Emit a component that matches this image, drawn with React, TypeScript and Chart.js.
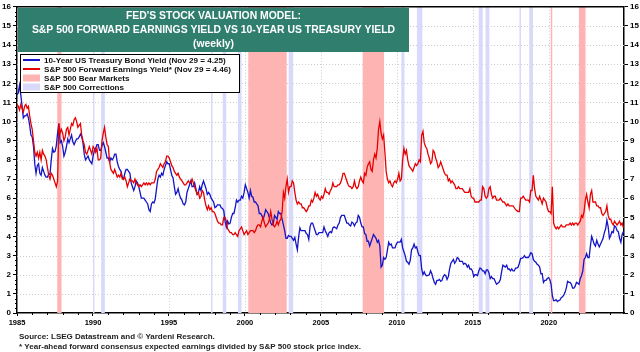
import React, { useEffect, useRef } from "react";
import { Chart, registerables } from "chart.js";

Chart.register(...registerables);

// ---------- DATA ----------
const START_DATE = 1985.0;
const LAST_DATE = 2024.91; // Nov 29, 2024

// 10-Year US Treasury Bond Yield (%), monthly readings Jan 1985 .. Nov 2024
const treasuryYield: number[] = [
  11.4, 11.5, 11.9, 11.4, 10.8, 10.2, 10.3, 10.3, 10.4, 10.2, 9.8, 9.3, // 1985
  9.2, 8.7, 7.8, 7.3, 7.7, 7.8, 7.3, 7.2, 7.6, 7.4, 7.2, 7.1, // 1986
  7.1, 7.25, 7.25, 8.0, 8.6, 8.4, 8.45, 8.75, 9.4, 9.9, 8.9, 9.0, // 1987
  8.7, 8.2, 8.4, 8.7, 9.1, 8.9, 9.1, 9.3, 8.95, 8.8, 8.95, 9.1, // 1988
  9.1, 9.2, 9.35, 9.2, 8.9, 8.3, 8.0, 8.1, 8.2, 8.0, 7.9, 7.8, // 1989
  8.2, 8.5, 8.6, 8.8, 8.8, 8.5, 8.5, 8.75, 8.9, 8.7, 8.4, 8.1, // 1990
  8.1, 7.9, 8.1, 8.0, 8.1, 8.3, 8.3, 7.9, 7.65, 7.5, 7.4, 7.1, // 1991
  7.0, 7.3, 7.5, 7.5, 7.4, 7.3, 6.8, 6.6, 6.4, 6.6, 6.9, 6.8, // 1992
  6.6, 6.3, 6.0, 6.0, 6.0, 5.9, 5.8, 5.7, 5.4, 5.3, 5.7, 5.8, // 1993
  5.75, 5.97, 6.5, 7.0, 7.2, 7.1, 7.3, 7.2, 7.5, 7.7, 7.9, 7.8, // 1994
  7.8, 7.5, 7.2, 7.06, 6.6, 6.2, 6.3, 6.5, 6.2, 6.0, 5.9, 5.7, // 1995
  5.65, 5.8, 6.3, 6.5, 6.7, 6.9, 6.6, 6.6, 6.8, 6.5, 6.2, 6.3, // 1996
  6.6, 6.4, 6.7, 6.9, 6.7, 6.5, 6.2, 6.3, 6.2, 6.0, 5.9, 5.8, // 1997
  5.5, 5.55, 5.65, 5.65, 5.65, 5.5, 5.46, 5.34, 4.8, 4.5, 4.8, 4.65, // 1998
  4.7, 5.0, 5.2, 5.2, 5.5, 5.9, 5.8, 5.9, 5.9, 6.1, 6.0, 6.3, // 1999
  6.7, 6.5, 6.3, 6.0, 6.4, 6.1, 6.05, 5.8, 5.8, 5.7, 5.6, 5.2, // 2000
  5.2, 5.1, 4.9, 5.1, 5.4, 5.3, 5.2, 4.95, 4.7, 4.6, 4.65, 5.1, // 2001
  5.0, 4.9, 5.3, 5.2, 5.2, 4.9, 4.6, 4.3, 3.9, 3.9, 4.05, 4.0, // 2002
  4.0, 3.9, 3.8, 3.95, 3.6, 3.3, 3.98, 4.45, 4.3, 4.3, 4.3, 4.3, // 2003
  4.15, 4.1, 3.85, 4.5, 4.7, 4.7, 4.5, 4.3, 4.1, 4.1, 4.2, 4.2, // 2004
  4.2, 4.2, 4.5, 4.3, 4.15, 4.0, 4.2, 4.25, 4.2, 4.45, 4.5, 4.45, // 2005
  4.4, 4.6, 4.7, 5.0, 5.1, 5.1, 5.1, 4.9, 4.7, 4.7, 4.6, 4.55, // 2006
  4.75, 4.7, 4.55, 4.7, 4.75, 5.1, 5.0, 4.7, 4.5, 4.5, 4.15, 4.1, // 2007
  3.75, 3.75, 3.5, 3.7, 3.9, 4.1, 4.0, 3.9, 3.7, 3.8, 3.5, 2.4, // 2008
  2.5, 2.9, 2.8, 2.9, 3.3, 3.7, 3.55, 3.6, 3.4, 3.4, 3.4, 3.6, // 2009
  3.7, 3.7, 3.7, 3.85, 3.4, 3.2, 3.0, 2.7, 2.65, 2.55, 2.75, 3.3, // 2010
  3.4, 3.6, 3.4, 3.45, 3.2, 3.0, 3.0, 2.3, 2.0, 2.15, 2.0, 1.95, // 2011
  1.97, 2.0, 2.2, 2.05, 1.8, 1.6, 1.5, 1.7, 1.7, 1.75, 1.65, 1.7, // 2012
  1.9, 2.0, 1.95, 1.75, 1.9, 2.3, 2.6, 2.7, 2.8, 2.6, 2.7, 2.9, // 2013
  2.85, 2.7, 2.7, 2.7, 2.55, 2.6, 2.55, 2.4, 2.5, 2.3, 2.3, 2.2, // 2014
  1.9, 2.0, 2.0, 1.95, 2.2, 2.35, 2.3, 2.2, 2.2, 2.05, 2.25, 2.25, // 2015
  2.1, 1.8, 1.9, 1.8, 1.8, 1.65, 1.5, 1.55, 1.6, 1.75, 2.15, 2.5, // 2016
  2.45, 2.4, 2.5, 2.3, 2.3, 2.2, 2.3, 2.2, 2.2, 2.35, 2.35, 2.4, // 2017
  2.6, 2.85, 2.85, 2.9, 3.0, 2.9, 2.9, 2.9, 3.0, 3.15, 3.1, 2.8, // 2018
  2.7, 2.65, 2.55, 2.5, 2.4, 2.05, 2.05, 1.6, 1.7, 1.7, 1.8, 1.85, // 2019
  1.75, 1.5, 0.9, 0.65, 0.65, 0.7, 0.6, 0.65, 0.68, 0.8, 0.85, 0.93, // 2020
  1.08, 1.3, 1.65, 1.6, 1.6, 1.5, 1.3, 1.3, 1.4, 1.6, 1.55, 1.5, // 2021
  1.8, 1.95, 2.2, 2.8, 2.9, 3.1, 2.9, 2.9, 3.5, 4.0, 3.8, 3.6, // 2022
  3.5, 3.8, 3.6, 3.45, 3.6, 3.75, 3.9, 4.2, 4.4, 4.85, 4.5, 3.9, // 2023
  4.05, 4.25, 4.2, 4.55, 4.5, 4.3, 4.25, 3.9, 3.7, 4.1, 4.25, // 2024
];

// S&P 500 Forward Earnings Yield (%), monthly readings Jan 1985 .. Nov 2024
const earningsYield: number[] = [
  10.9, 10.8, 10.6, 10.9, 10.7, 10.5, 10.8, 10.9, 10.7, 10.8, 10.3, 9.9, // 1985
  9.6, 9.0, 8.4, 8.2, 8.4, 8.1, 8.4, 8.0, 8.5, 8.3, 8.2, 8.0, // 1986
  7.6, 7.2, 7.0, 7.3, 7.2, 7.0, 6.8, 6.6, 6.9, 9.9, 9.4, 9.6, // 1987
  9.4, 9.0, 9.2, 9.6, 9.7, 9.3, 9.6, 9.9, 9.8, 10.1, 10.2, 10.0, // 1988
  9.7, 9.8, 9.9, 9.3, 9.0, 8.8, 8.4, 8.3, 8.5, 8.7, 8.5, 8.3, // 1989
  8.7, 8.6, 8.4, 8.6, 8.0, 8.0, 8.1, 9.0, 9.4, 9.7, 9.2, 8.8, // 1990
  8.7, 7.9, 7.5, 7.4, 7.3, 7.5, 7.3, 7.1, 7.2, 7.1, 7.3, 7.0, // 1991
  7.0, 7.1, 6.9, 6.6, 6.8, 7.0, 6.9, 6.9, 6.8, 7.0, 6.8, 6.7, // 1992
  6.6, 6.7, 6.6, 6.7, 6.8, 6.7, 6.8, 6.7, 6.8, 6.7, 6.8, 6.8, // 1993
  6.8, 7.0, 7.4, 7.5, 7.6, 7.8, 7.7, 7.6, 7.8, 7.9, 8.2, 8.2, // 1994
  8.1, 7.9, 7.7, 7.6, 7.4, 7.3, 7.2, 7.3, 7.1, 7.0, 6.9, 6.8, // 1995
  6.7, 6.7, 6.8, 6.9, 6.8, 6.8, 7.0, 6.8, 6.6, 6.4, 6.2, 6.3, // 1996
  6.0, 6.1, 6.4, 6.3, 5.9, 5.6, 5.4, 5.6, 5.4, 5.5, 5.3, 5.3, // 1997
  5.2, 5.0, 4.8, 4.7, 4.7, 4.6, 4.6, 5.0, 5.0, 4.8, 4.4, 4.3, // 1998
  4.2, 4.2, 4.1, 4.1, 4.2, 4.1, 4.0, 4.3, 4.4, 4.5, 4.3, 4.1, // 1999
  4.2, 4.3, 4.1, 4.2, 4.3, 4.3, 4.3, 4.2, 4.3, 4.5, 4.6, 4.6, // 2000
  4.5, 4.8, 5.0, 4.7, 4.5, 4.6, 4.7, 4.9, 5.3, 4.9, 4.6, 4.5, // 2001
  4.6, 4.8, 4.6, 4.8, 4.9, 5.3, 6.3, 6.0, 6.6, 7.0, 6.3, 6.6, // 2002
  6.6, 6.9, 6.8, 6.3, 5.9, 5.7, 5.8, 5.7, 5.7, 5.5, 5.5, 5.4, // 2003
  5.3, 5.4, 5.6, 5.6, 5.9, 5.8, 6.0, 6.3, 6.1, 6.2, 6.0, 5.9, // 2004
  6.1, 6.0, 6.2, 6.5, 6.3, 6.3, 6.2, 6.4, 6.5, 6.8, 6.6, 6.6, // 2005
  6.6, 6.7, 6.7, 6.8, 7.0, 7.3, 7.3, 7.1, 6.9, 6.7, 6.6, 6.6, // 2006
  6.5, 6.6, 6.9, 6.6, 6.5, 6.6, 6.9, 7.1, 6.9, 6.8, 7.3, 7.2, // 2007
  7.6, 7.8, 7.9, 7.5, 7.4, 8.0, 8.3, 8.1, 8.6, 9.6, 10.0, 9.4, // 2008
  9.1, 9.3, 8.4, 7.4, 7.0, 6.8, 6.9, 6.7, 6.6, 6.8, 6.9, 6.8, // 2009
  7.0, 7.3, 6.9, 7.0, 8.0, 8.6, 8.3, 8.5, 8.0, 7.7, 7.6, 7.5, // 2010
  7.4, 7.6, 7.8, 7.7, 7.8, 8.0, 7.9, 9.3, 9.5, 8.9, 8.7, 8.6, // 2011
  8.3, 8.1, 7.8, 7.9, 8.5, 8.4, 8.1, 7.9, 7.6, 7.7, 7.9, 7.7, // 2012
  7.5, 7.3, 7.2, 7.2, 6.9, 7.0, 6.8, 6.9, 6.8, 6.7, 6.5, 6.5, // 2013
  6.6, 6.5, 6.5, 6.5, 6.4, 6.3, 6.3, 6.3, 6.3, 6.5, 6.1, 6.0, // 2014
  6.0, 5.8, 5.8, 5.8, 5.8, 5.9, 5.9, 6.6, 6.5, 6.1, 6.0, 6.1, // 2015
  6.5, 6.6, 6.2, 6.0, 6.1, 6.1, 5.9, 5.9, 5.9, 6.0, 5.9, 5.8, // 2016
  5.8, 5.7, 5.6, 5.7, 5.6, 5.6, 5.6, 5.6, 5.5, 5.4, 5.35, 5.3, // 2017
  5.3, 6.0, 6.0, 6.1, 6.0, 5.9, 5.9, 5.9, 5.8, 6.4, 6.4, 7.2, // 2018
  6.5, 6.1, 6.0, 5.9, 6.1, 5.9, 5.7, 6.0, 5.9, 5.8, 5.5, 5.3, // 2019
  5.3, 5.2, 6.6, 4.7, 4.5, 4.4, 4.5, 4.4, 4.5, 4.6, 4.5, 4.5, // 2020
  4.5, 4.6, 4.6, 4.6, 4.7, 4.6, 4.7, 4.6, 4.7, 4.7, 4.6, 4.7, // 2021
  4.8, 5.1, 5.0, 5.3, 5.9, 6.2, 5.8, 5.5, 6.2, 6.4, 5.8, 5.8, // 2022
  5.8, 5.6, 5.6, 5.5, 5.5, 5.2, 5.1, 5.2, 5.3, 5.6, 5.1, 4.9, // 2023
  4.9, 4.7, 4.6, 4.8, 4.7, 4.6, 4.7, 4.8, 4.6, 4.7, 4.46, // 2024
];

const xTickYears = [1985, 1990, 1995, 2000, 2005, 2010, 2015, 2020];
const yMin = 0;
const yMax = 16;

// [start, end] as decimal years
const bearMarkets: [number, number][] = [
  [1987.65, 1987.93],
  [2000.22, 2002.75],
  [2007.75, 2009.16],
  [2020.13, 2020.2],
  [2021.98, 2022.42],
];
const corrections: [number, number][] = [
  [1990.0, 1990.08],
  [1990.54, 1990.78],
  [1997.77, 1997.82],
  [1998.54, 1998.77],
  [1999.54, 1999.78],
  [2002.88, 2003.18],
  [2010.3, 2010.5],
  [2011.32, 2011.68],
  [2015.39, 2015.65],
  [2015.84, 2016.09],
  [2018.07, 2018.11],
  [2018.71, 2018.96],
];

const titleLines = [
  "FED'S STOCK VALUATION MODEL:",
  "S&P 500 FORWARD EARNINGS YIELD VS 10-YEAR US TREASURY YIELD",
  "(weekly)",
];
const legendLabels = [
  "10-Year US Treasury Bond Yield (Nov 29 = 4.25)",
  "S&P 500 Forward Earnings Yield* (Nov 29 = 4.46)",
  "S&P 500 Bear Markets",
  "S&P 500 Corrections",
];
const footnotes = [
  "Source: LSEG Datastream and \u00A9 Yardeni Research.",
  "* Year-ahead forward consensus expected earnings divided by S&P 500 stock price index.",
];

// ---------- STYLE ----------
const BLUE = "#1414c8";
const RED = "#e60000";
const PINK = "#ffb4b4";
const LAVENDER = "#d9d9fb";
const TEAL = "#2f7e6e";
const FONT = "'Liberation Sans', Arial, sans-serif";

function toPoints(values: number[]) {
  const step = (LAST_DATE - START_DATE) / (values.length - 1);
  return values.map((v, i) => ({ x: START_DATE + i * step, y: v }));
}

const decorPlugin = {
  id: "decor",
  beforeDatasetsDraw(chart: any) {
    const { ctx, chartArea: a, scales } = chart;
    const x = scales.x;
    const y = scales.y;
    ctx.save();
    // dotted grid
    ctx.strokeStyle = "#cccccc";
    ctx.lineWidth = 1;
    ctx.setLineDash([1, 2]);
    for (let v = yMin + 1; v < yMax; v++) {
      const py = Math.round(y.getPixelForValue(v)) + 0.5;
      ctx.beginPath();
      ctx.moveTo(a.left, py);
      ctx.lineTo(a.right, py);
      ctx.stroke();
    }
    for (const yr of xTickYears) {
      if (yr <= x.min) continue;
      const px = Math.round(x.getPixelForValue(yr)) + 0.5;
      ctx.beginPath();
      ctx.moveTo(px, a.top);
      ctx.lineTo(px, a.bottom);
      ctx.stroke();
    }
    ctx.setLineDash([]);
    // bands
    const drawBand = (b: [number, number], color: string) => {
      const x1 = x.getPixelForValue(b[0]);
      const x2 = x.getPixelForValue(b[1]);
      ctx.fillStyle = color;
      ctx.fillRect(x1, a.top, Math.max(x2 - x1, 1.5), a.bottom - a.top);
    };
    corrections.forEach((b) => drawBand(b, LAVENDER));
    bearMarkets.forEach((b) => drawBand(b, PINK));
    ctx.restore();
  },
  afterDatasetsDraw(chart: any) {
    const { ctx, chartArea: a, scales } = chart;
    const x = scales.x;
    const y = scales.y;
    ctx.save();
    // top frame line
    ctx.strokeStyle = "#000";
    ctx.lineWidth = 1.5;
    ctx.beginPath();
    ctx.moveTo(a.left, a.top);
    ctx.lineTo(a.right, a.top);
    ctx.stroke();

    // minor ticks
    ctx.lineWidth = 1;
    for (let v = yMin; v <= yMax; v += 0.25) {
      if (Math.abs(v - Math.round(v)) < 1e-6) continue;
      const py = Math.round(y.getPixelForValue(v)) + 0.5;
      ctx.beginPath();
      ctx.moveTo(a.left - 2, py);
      ctx.lineTo(a.left, py);
      ctx.stroke();
    }
    for (let yr = 1986; yr < x.max; yr++) {
      if (xTickYears.includes(yr)) continue;
      const px = Math.round(x.getPixelForValue(yr)) + 0.5;
      ctx.beginPath();
      ctx.moveTo(px, a.bottom);
      ctx.lineTo(px, a.bottom + 2);
      ctx.stroke();
    }

    // title box
    const tx1 = a.left + 1;
    const tx2 = 409;
    const ty1 = a.top + 1;
    const ty2 = 52;
    ctx.fillStyle = TEAL;
    ctx.fillRect(tx1, ty1, tx2 - tx1, ty2 - ty1);
    ctx.fillStyle = "#ffffff";
    ctx.font = `bold 10.4px ${FONT}`;
    ctx.textAlign = "center";
    ctx.textBaseline = "middle";
    const cx = (tx1 + tx2) / 2;
    ctx.fillText(titleLines[0], cx, 16.5);
    ctx.fillText(titleLines[1], cx, 30.5);
    ctx.fillText(titleLines[2], cx, 44.5);

    // legend
    const lx1 = 20.5;
    const lx2 = 239.5;
    const ly1 = 54.5;
    const ly2 = 92.5;
    ctx.fillStyle = "#ffffff";
    ctx.fillRect(lx1, ly1, lx2 - lx1, ly2 - ly1);
    ctx.strokeStyle = "#000";
    ctx.lineWidth = 1;
    ctx.strokeRect(lx1, ly1, lx2 - lx1, ly2 - ly1);
    const rows = [60, 69, 78, 87];
    const sw1 = 23;
    const sw2 = 40;
    ctx.lineWidth = 2;
    ctx.strokeStyle = BLUE;
    ctx.beginPath();
    ctx.moveTo(sw1, rows[0]);
    ctx.lineTo(sw2, rows[0]);
    ctx.stroke();
    ctx.strokeStyle = RED;
    ctx.beginPath();
    ctx.moveTo(sw1, rows[1]);
    ctx.lineTo(sw2, rows[1]);
    ctx.stroke();
    ctx.fillStyle = PINK;
    ctx.fillRect(sw1, rows[2] - 3.5, sw2 - sw1, 7);
    ctx.fillStyle = LAVENDER;
    ctx.fillRect(sw1, rows[3] - 3.5, sw2 - sw1, 7);
    ctx.fillStyle = "#111";
    ctx.font = `bold 8.1px ${FONT}`;
    ctx.textAlign = "left";
    ctx.textBaseline = "middle";
    legendLabels.forEach((t, i) => ctx.fillText(t, 44, rows[i] + 0.5));
    ctx.restore();
  },
  afterDraw(chart: any) {
    const { ctx } = chart;
    ctx.save();
    ctx.fillStyle = "#222";
    ctx.font = `bold 8px ${FONT}`;
    ctx.textAlign = "left";
    ctx.textBaseline = "middle";
    ctx.fillText(footnotes[0], 19, 336.5);
    ctx.fillText(footnotes[1], 19, 347);
    ctx.restore();
  },
};

export default function App() {
  const canvasRef = useRef<HTMLCanvasElement | null>(null);

  useEffect(() => {
    if (!canvasRef.current) return;
    const tickFont = { family: FONT, size: 8, weight: "bold" as const };
    const yAxis = (position: "left" | "right", width: number) => ({
      type: "linear" as const,
      position,
      min: yMin,
      max: yMax,
      ticks: {
        stepSize: 1,
        font: tickFont,
        color: "#000",
        padding: 2,
      },
      grid: { drawOnChartArea: false, drawTicks: true, tickLength: 4, color: "#000" },
      border: { color: "#000", width: 1.5 },
      afterFit: (s: any) => {
        s.width = width;
      },
    });
    const chart = new Chart(canvasRef.current, {
      type: "line",
      data: {
        datasets: [
          {
            label: legendLabels[1],
            data: toPoints(earningsYield),
            borderColor: RED,
            borderWidth: 1.3,
            pointRadius: 0,
            tension: 0,
            yAxisID: "y",
          },
          {
            label: legendLabels[0],
            data: toPoints(treasuryYield),
            borderColor: BLUE,
            borderWidth: 1.3,
            pointRadius: 0,
            tension: 0,
            yAxisID: "y",
          },
        ],
      },
      options: {
        animation: false,
        responsive: true,
        maintainAspectRatio: false,
        parsing: false,
        layout: { padding: { top: 6, left: 0, right: 0, bottom: 0 } },
        plugins: {
          legend: { display: false },
          title: { display: false },
          tooltip: { enabled: false },
        },
        scales: {
          x: {
            type: "linear",
            min: START_DATE,
            max: 2024.95,
            afterBuildTicks: (s: any) => {
              s.ticks = xTickYears.map((v) => ({ value: v }));
            },
            ticks: {
              font: { family: FONT, size: 7.5, weight: "bold" },
              color: "#000",
              padding: 2,
              maxRotation: 0,
              autoSkip: false,
              callback: (v: any) => String(v),
            },
            grid: { drawOnChartArea: false, drawTicks: true, tickLength: 3, color: "#000" },
            border: { color: "#000", width: 1.5 },
            afterFit: (s: any) => {
              s.height = 39;
            },
          },
          y: yAxis("left", 17),
          y2: yAxis("right", 16),
        },
      },
      plugins: [decorPlugin],
    });
    return () => chart.destroy();
  }, []);

  return (
    <div style={{ position: "fixed", left: 0, top: 0, width: 640, height: 352, background: "#fff" }}>
      <canvas ref={canvasRef} />
    </div>
  );
}
